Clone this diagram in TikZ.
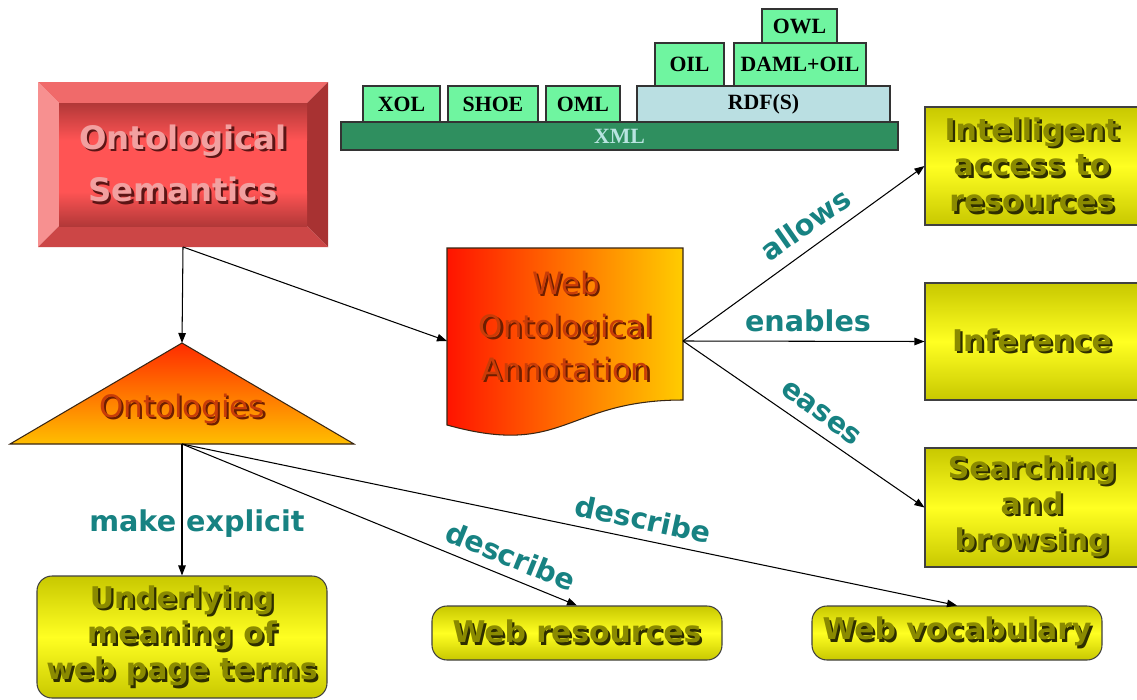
\documentclass[tikz,border=0pt]{standalone}
\usepackage{fontspec}
\setmainfont{DejaVu Sans}
\newfontfamily\timesfont{Liberation Serif}
\usetikzlibrary{arrows.meta}

\definecolor{xmlgreen}{HTML}{2F8F5F}
\definecolor{xmltext}{HTML}{B8E4E0}
\definecolor{mint}{HTML}{6FF5A0}
\definecolor{rdfblue}{HTML}{BADFE2}
\definecolor{labelteal}{HTML}{178282}
\definecolor{ylwedge}{HTML}{C8C800}
\definecolor{ylwmid}{HTML}{FFFF22}
\definecolor{ylwtext}{HTML}{8A8A00}
\definecolor{ylwshadow}{HTML}{2E2E00}
\definecolor{ostext}{HTML}{F2A0A0}
\definecolor{osshadow}{HTML}{5C1515}
\definecolor{bevtop}{HTML}{F06A6A}
\definecolor{bevleft}{HTML}{F79090}
\definecolor{bevright}{HTML}{A83232}
\definecolor{bevbottom}{HTML}{CC4646}
\definecolor{osdark}{HTML}{B23838}
\definecolor{osmid}{HTML}{FF5454}
\definecolor{woaleft}{HTML}{FF1400}
\definecolor{woaright}{HTML}{FFCC00}
\definecolor{warmtext}{HTML}{C83C08}
\definecolor{warmshadow}{HTML}{6E1E00}
\definecolor{tritop}{HTML}{FF2C00}
\definecolor{tribottom}{HTML}{FFBE00}

% text with a dark drop shadow: shadow colour, fill colour, text
\newcommand\shtxt[3]{\rlap{\kern1.3pt\raisebox{-1.3pt}{\textcolor{#1}{#3}}}\textcolor{#2}{#3}}
\newcommand\ylw[1]{\shtxt{ylwshadow}{ylwtext}{#1}}
\newcommand\pnk[1]{\shtxt{osshadow}{ostext}{#1}}
\newcommand\wrm[1]{\shtxt{warmshadow}{warmtext}{#1}}
\newcommand\pxl{0.02cm}

\begin{document}
\begin{tikzpicture}[x=0.02cm,y=-0.02cm,
  arr/.style={draw=black, line width=0.6pt, -{Triangle[length=2mm,width=1.5mm]}},
  lbl/.style={text=labelteal, inner sep=0pt, font=\bfseries\fontsize{16.3pt}{19pt}\selectfont},
  layer/.style={draw=black!80, line width=0.6pt, inner sep=0pt,
    font=\timesfont\bfseries\fontsize{12.4pt}{14pt}\selectfont},
  target/.style={draw=black!75, line width=0.6pt, top color=ylwedge, bottom color=ylwedge,
    middle color=ylwmid, inner sep=0pt, align=center,
    font=\bfseries\fontsize{17pt}{20.4pt}\selectfont},
  rtarget/.style={target, rounded corners=0.3cm},
  hidden/.style={inner sep=0pt, outer sep=0pt}
]
\useasboundingbox (0,0) rectangle (1137,700);
\fill[white] (0,0) rectangle (1137,700);

% ---- language layer stack ----
\node[layer, fill=xmlgreen, text=xmltext, minimum width=557*\pxl, minimum height=28*\pxl] (xml) at (619.5,136) {XML};
\node[layer, fill=mint, minimum width=77*\pxl, minimum height=36*\pxl] (xol) at (401.5,104) {XOL};
\node[layer, fill=mint, minimum width=90*\pxl, minimum height=36*\pxl] (shoe) at (493,104) {SHOE};
\node[layer, fill=mint, minimum width=74*\pxl, minimum height=36*\pxl] (oml) at (583,104) {OML};
\node[layer, fill=rdfblue, minimum width=253*\pxl, minimum height=36*\pxl] (rdf) at (763.5,104) {RDF(S)};
\node[layer, fill=mint, minimum width=69*\pxl, minimum height=43*\pxl] (oil) at (689.5,64.5) {OIL};
\node[layer, fill=mint, minimum width=132*\pxl, minimum height=43*\pxl] (daml) at (800,64.5) {DAML+OIL};
\node[layer, fill=mint, minimum width=75*\pxl, minimum height=34*\pxl] (owl) at (799.5,26) {OWL};

% ---- bevelled "Ontological Semantics" button ----
\fill[bevtop] (38,82) -- (328,82) -- (307,103) -- (59,103) -- cycle;
\fill[bevleft] (38,82) -- (59,103) -- (59,226) -- (38,247) -- cycle;
\fill[bevright] (328,82) -- (328,247) -- (307,226) -- (307,103) -- cycle;
\fill[bevbottom] (38,247) -- (59,226) -- (307,226) -- (328,247) -- cycle;
% face: dark at the top and bottom edges, bright red in between
\fill[osmid] (59,140) rectangle (307,192);
\shade[top color=osdark, bottom color=osmid] (59,103) rectangle (307,140.5);
\shade[top color=osmid, bottom color=osdark] (59,191.5) rectangle (307,226);
\node[hidden, minimum width=290*\pxl, minimum height=165*\pxl, align=center,
  font=\bfseries\fontsize{18.4pt}{30pt}\selectfont] (os) at (183,164.5)
  {\pnk{Ontological}\\\pnk{Semantics}};

% ---- "Web Ontological Annotation" document shape ----
\shade[left color=woaleft, right color=woaright]
  (447,248) -- (683,248) -- (683,400) .. controls (565,400) and (565,458) .. (447,425) -- cycle;
\draw[line width=0.6pt, draw=black!70!brown]
  (447,248) -- (683,248) -- (683,400) .. controls (565,400) and (565,458) .. (447,425) -- cycle;
\node[hidden, minimum width=236*\pxl, minimum height=186*\pxl] (woa) at (565,341) {};
\node[hidden, align=center, font=\fontsize{17.5pt}{24.4pt}\selectfont] (woatext) at (566,327)
  {\wrm{Web}\\\wrm{Ontological}\\\wrm{Annotation}};

% ---- "Ontologies" triangle ----
\shade[top color=tritop, bottom color=tribottom] (182,343) -- (354,444) -- (10,444) -- cycle;
\draw[line width=0.6pt, draw=black!70!brown] (182,343) -- (354,444) -- (10,444) -- cycle;
\node[hidden, minimum width=344*\pxl, minimum height=101*\pxl] (onto) at (182,393.5) {};
\node[hidden, font=\fontsize{17.6pt}{20pt}\selectfont] (ontotext) at (182,410) {\wrm{Ontologies}};

% ---- outcome boxes ----
\node[target, minimum width=214*\pxl, minimum height=118*\pxl] (intel) at (1032,166)
  {\ylw{Intelligent}\\\ylw{access to}\\\ylw{resources}};
\node[target, minimum width=214*\pxl, minimum height=117*\pxl] (infer) at (1032,341.5)
  {\ylw{Inference}};
\node[target, minimum width=214*\pxl, minimum height=119*\pxl] (search) at (1032,507.5)
  {\ylw{Searching}\\\ylw{and}\\\ylw{browsing}};

\node[rtarget, minimum width=290*\pxl, minimum height=122*\pxl] (under) at (182,637)
  {\ylw{Underlying}\\\ylw{meaning of}\\\ylw{web page terms}};
\node[rtarget, minimum width=290*\pxl, minimum height=54*\pxl] (webres) at (577,633)
  {\ylw{Web resources}};
\node[rtarget, minimum width=290*\pxl, minimum height=54*\pxl] (webvoc) at (957,633)
  {\ylw{Web vocabulary}};

% ---- connectors ----
\draw[arr] (os.south) -- (onto.north);
\draw[arr] (os.south) -- (woa.west);
\draw[arr] (woa.east) -- (intel.west);
\draw[arr] (woa.east) -- (infer.west);
\draw[arr] (woa.east) -- (search.west);
\draw[arr] (onto.south) -- (under.north);
\draw[arr] (onto.south) -- (webres.north);
\draw[arr] (onto.south) -- (webvoc.north);

% ---- connector labels ----
\node[lbl, rotate=35] (allows) at (805,224) {allows};
\node[lbl] (enables) at (808,321) {enables};
\node[lbl, rotate=-36] (eases) at (821,413) {eases};
\node[lbl] (explicit) at (197,524) {make explicit};
\node[lbl, rotate=-22] (describe1) at (511,556) {describe};
\node[lbl, rotate=-12] (describe2) at (643,519) {describe};
\end{tikzpicture}
\end{document}
